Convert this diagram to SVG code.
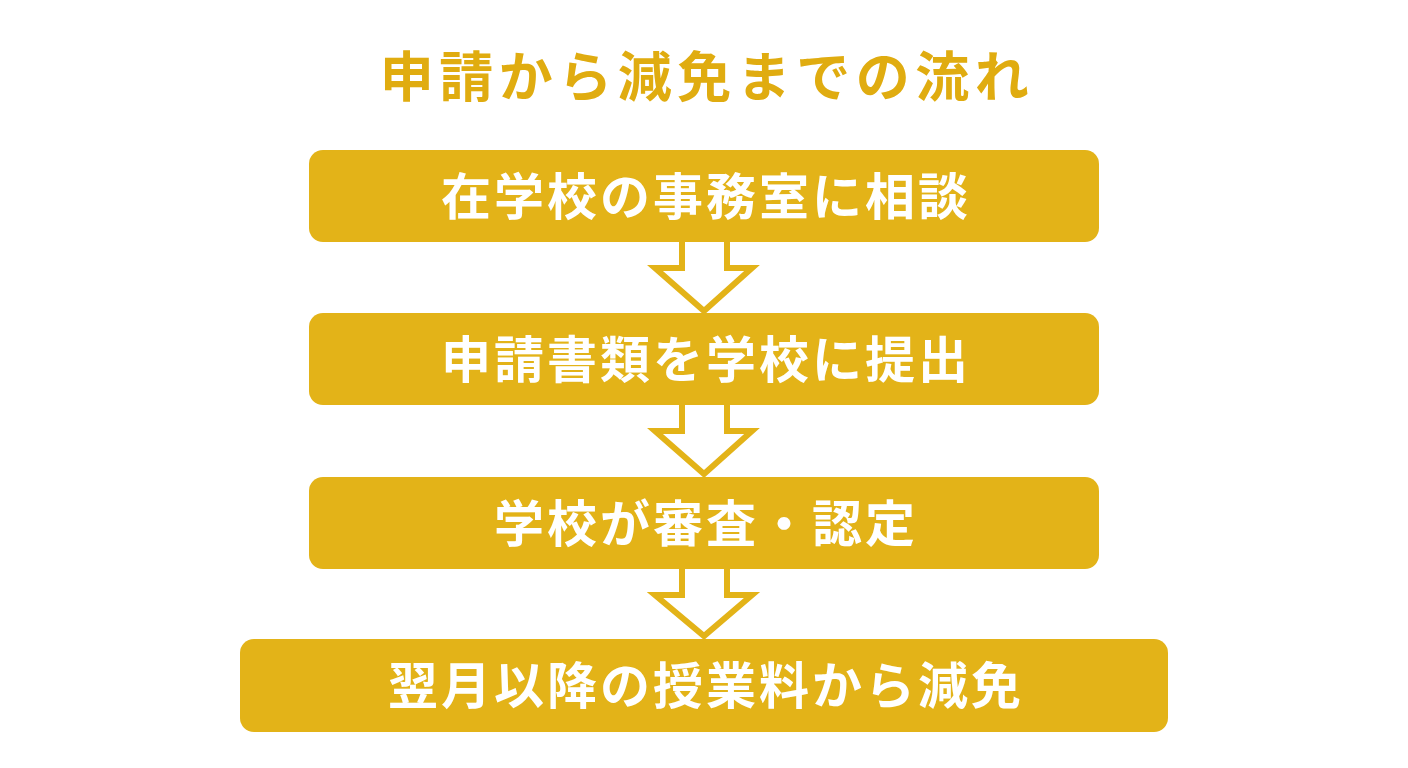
<svg xmlns="http://www.w3.org/2000/svg" width="1408" height="768" viewBox="0 0 1408 768">
<style>
.box{fill:#E3B318}
.lbl{font-family:"Noto Sans CJK JP","Noto Sans CJK SC",sans-serif;font-weight:700;font-size:50px;fill:#FFFFFF;text-anchor:middle;letter-spacing:3px}
.title{font-family:"Noto Sans CJK JP","Noto Sans CJK SC",sans-serif;font-weight:700;font-size:54px;fill:#E0AC10;text-anchor:middle;letter-spacing:5.5px}
.arr{fill:#FFFFFF;stroke:#E3B318;stroke-width:6;stroke-linejoin:miter}
</style>
<rect width="1408" height="768" fill="#FFFFFF"/>
<text class="title" x="707" y="97">申請から減免までの流れ</text>
<g id="connectors">
<path class="arr" d="M682,242 V268 H655 L704,311 L752,268 H727 V242"/>
<path class="arr" d="M682,405 V431 H655 L704,474 L752,431 H727 V405"/>
<path class="arr" d="M682,569 V595 H655 L704,636 L752,595 H727 V569"/>
</g>
<g id="node1"><rect class="box" x="309" y="150" width="790" height="92" rx="14"/><text class="lbl" x="706" y="215">在学校の事務室に相談</text></g>
<g id="node2"><rect class="box" x="309" y="313" width="790" height="92" rx="14"/><text class="lbl" x="706" y="378">申請書類を学校に提出</text></g>
<g id="node3"><rect class="box" x="309" y="477" width="790" height="92" rx="14"/><text class="lbl" x="706" y="542">学校が審査・認定</text></g>
<g id="node4"><rect class="box" x="240" y="639" width="928" height="93" rx="14"/><text class="lbl" x="706" y="704">翌月以降の授業料から減免</text></g>
</svg>
